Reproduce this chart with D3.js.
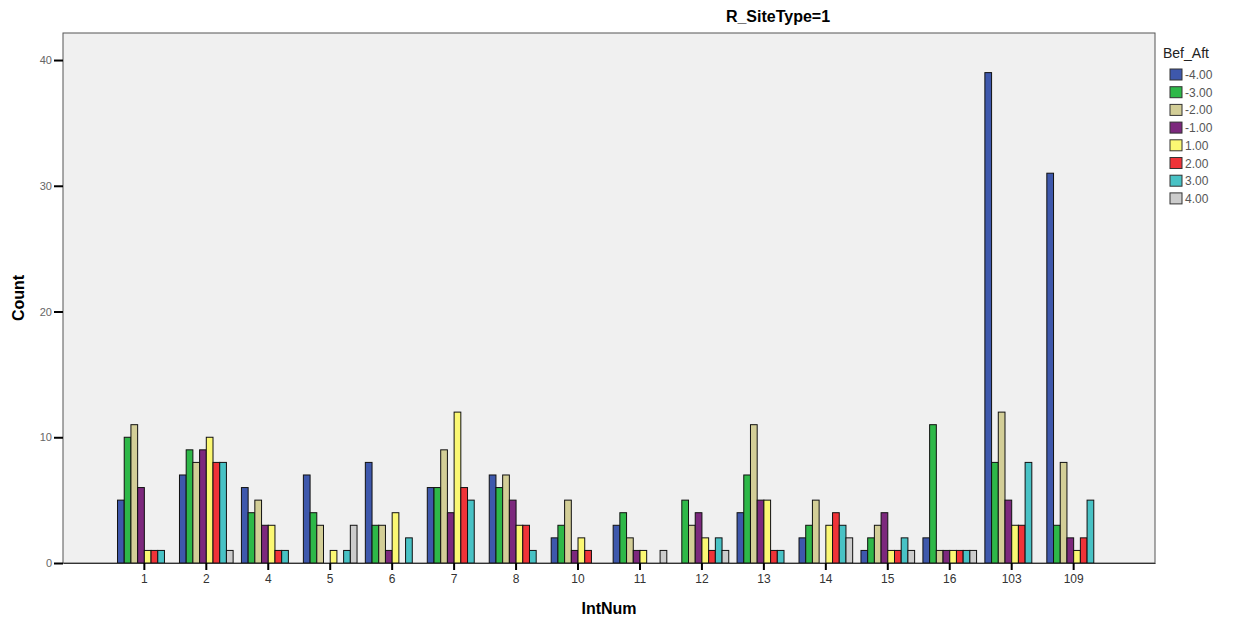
<!DOCTYPE html>
<html>
<head>
<meta charset="utf-8">
<script src="https://cdn.jsdelivr.net/npm/d3@7"></script>
<style>
  body { margin: 0; background: #fff; }
  svg { font-family: "Liberation Sans", Arial, sans-serif; }
</style>
</head>
<body>
<div id="vis"></div>
<script>
// categories and series
const INTNUM = ["1", "2", "4", "5", "6", "7", "8", "10", "11", "12", "13", "14", "15", "16", "103", "109"];
const BEF_AFT = ["-4.00", "-3.00", "-2.00", "-1.00", "1.00", "2.00", "3.00", "4.00"];
const COLORS = ["#3e58ac", "#2eb848", "#d3ce97", "#7c287d", "#fbf873", "#ef3338", "#48c2c5", "#cccccc"];

// one array per Bef_Aft value, in INTNUM order
const M4 = [5, 7, 6, 7, 8, 6, 7, 2, 3, 0, 4, 2, 1, 2, 39, 31];
const M3 = [10, 9, 4, 4, 3, 6, 6, 3, 4, 5, 7, 3, 2, 11, 8, 3];
const M2 = [11, 8, 5, 3, 3, 9, 7, 5, 2, 3, 11, 5, 3, 1, 12, 8];
const M1 = [6, 9, 3, 0, 1, 4, 5, 1, 1, 4, 5, 0, 4, 1, 5, 2];
const P1 = [1, 10, 3, 1, 4, 12, 3, 2, 1, 2, 5, 3, 1, 1, 3, 1];
const P2 = [1, 8, 1, 0, 0, 6, 3, 1, 0, 1, 1, 4, 1, 1, 3, 2];
const P3 = [1, 8, 1, 1, 2, 5, 1, 0, 0, 2, 1, 3, 2, 1, 8, 5];
const P4 = [0, 1, 0, 3, 0, 0, 0, 0, 1, 1, 0, 2, 1, 1, 0, 0];
const SERIES = [M4, M3, M2, M1, P1, P2, P3, P4];

const Y_TICKS = [0, 10, 20, 30, 40];

const WIDTH = 1233, HEIGHT = 623;
const PLOT = {left: 63, right: 1155, top: 33, bottom: 563};

const svg = d3.select("#vis").append("svg")
    .attr("width", WIDTH)
    .attr("height", HEIGHT);

// plot background
svg.append("rect")
    .attr("x", PLOT.left).attr("y", PLOT.top)
    .attr("width", PLOT.right - PLOT.left)
    .attr("height", PLOT.bottom - PLOT.top)
    .attr("fill", "#f0f0f0")
    .attr("stroke", "#555")
    .attr("stroke-width", 1);

const X_SCALE = d3.scaleBand()
    .domain(INTNUM)
    .range([PLOT.left, PLOT.right])
    .paddingInner(0.134)
    .paddingOuter(0.88);

const X_INNER = d3.scaleBand()
    .domain(BEF_AFT)
    .range([0, X_SCALE.bandwidth()]);

const Y_SCALE = d3.scaleLinear()
    .domain([0, 42.15])
    .range([PLOT.bottom, PLOT.top]);

// flatten to one record per bar
const bars = [];
INTNUM.forEach((c, i) => {
    BEF_AFT.forEach((s, j) => {
        if (SERIES[j][i] > 0) bars.push({cat: c, ser: s, idx: j, value: SERIES[j][i]});
    });
});

svg.append("g").selectAll("rect")
    .data(bars)
    .enter()
    .append("rect")
        .attr("x", d => X_SCALE(d.cat) + X_INNER(d.ser))
        .attr("y", d => Y_SCALE(d.value))
        .attr("width", X_INNER.bandwidth())
        .attr("height", d => Y_SCALE(0) - Y_SCALE(d.value))
        .attr("fill", d => COLORS[d.idx])
        .attr("stroke", "#111")
        .attr("stroke-width", 1);

// axes
const xAxis = svg.append("g")
    .attr("transform", "translate(0," + PLOT.bottom + ")")
    .call(d3.axisBottom(X_SCALE).tickSizeInner(7).tickSizeOuter(0).tickPadding(4));
xAxis.select(".domain").attr("stroke", "#333");
xAxis.selectAll(".tick line").attr("stroke", "#000").attr("stroke-width", 2);
xAxis.selectAll(".tick text").attr("font-size", "12px").attr("fill", "#333");

const yAxis = svg.append("g")
    .attr("transform", "translate(" + PLOT.left + ",0)")
    .call(d3.axisLeft(Y_SCALE).tickValues(Y_TICKS).tickSize(9).tickPadding(2));
yAxis.select(".domain").remove();
yAxis.selectAll(".tick line").attr("stroke", "#000").attr("stroke-width", 2);
yAxis.selectAll(".tick text").attr("font-size", "11px").attr("fill", "#666");

// titles
svg.append("text")
    .attr("x", 778).attr("y", 22)
    .attr("text-anchor", "middle")
    .attr("font-size", "16px").attr("font-weight", "bold")
    .text("R_SiteType=1");

svg.append("text")
    .attr("x", (PLOT.left + PLOT.right) / 2).attr("y", 614)
    .attr("text-anchor", "middle")
    .attr("font-size", "16px").attr("font-weight", "bold")
    .text("IntNum");

svg.append("text")
    .attr("transform", "translate(24," + ((PLOT.top + PLOT.bottom) / 2) + ") rotate(-90)")
    .attr("text-anchor", "middle")
    .attr("font-size", "16px").attr("font-weight", "bold")
    .text("Count");

// legend
const legend = svg.append("g").attr("transform", "translate(1163,0)");
legend.append("text")
    .attr("x", 0).attr("y", 58)
    .attr("font-size", "14px").attr("fill", "#222")
    .text("Bef_Aft");

const items = legend.selectAll(".item")
    .data(BEF_AFT)
    .enter()
    .append("g")
        .attr("class", "item")
        .attr("transform", (d, i) => "translate(7," + (69 + i * 17.7) + ")");
items.append("rect")
    .attr("width", 12).attr("height", 11)
    .attr("fill", (d, i) => COLORS[i])
    .attr("stroke", "#333");
items.append("text")
    .attr("x", 15).attr("y", 10)
    .attr("font-size", "12px").attr("fill", "#555")
    .text(d => d);
</script>
</body>
</html>
